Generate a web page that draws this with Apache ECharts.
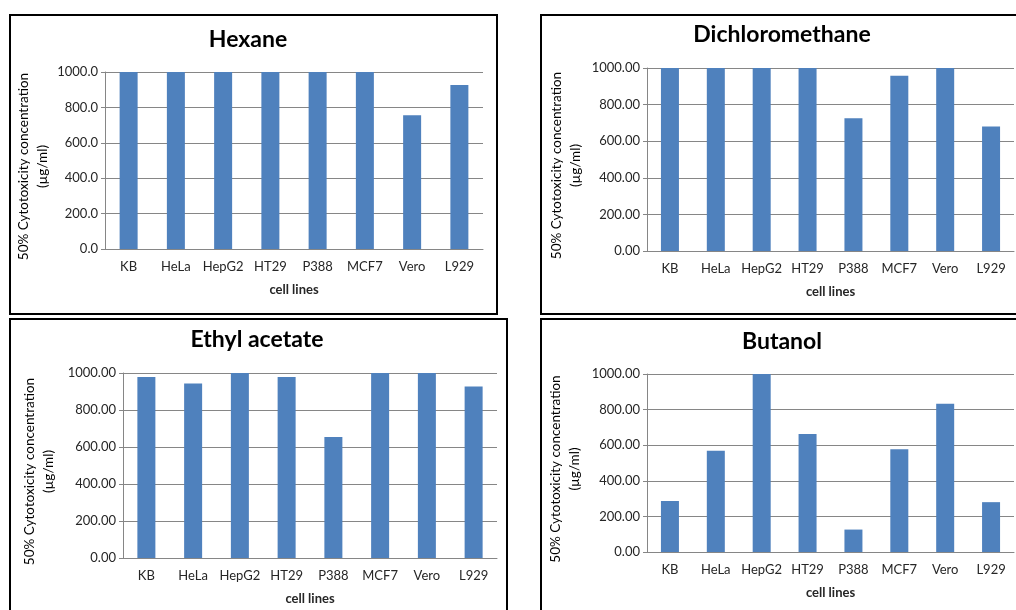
<!DOCTYPE html>
<html>
<head>
<meta charset="utf-8">
<title>50% cytotoxicity concentration</title>
<script src="https://cdn.jsdelivr.net/npm/echarts@6/dist/echarts.min.js"></script>
<style>
  html, body { margin: 0; padding: 0; background: #fff; }
  #main { width: 1016px; height: 610px; }
</style>
</head>
<body>
<div id="main"></div>
<script>
var categories = ['KB', 'HeLa', 'HepG2', 'HT29', 'P388', 'MCF7', 'Vero', 'L929'];

var hexane          = [1000, 1000, 1000, 1000, 1000, 1000, 756, 927];
var dichloromethane = [1000, 1000, 1000, 1000, 726, 958, 1000, 680];
var ethylAcetate    = [978, 943, 1000, 978, 654, 1000, 1000, 927];
var butanol         = [287, 569, 1000, 663, 126, 577, 833, 280];

var titles = ['Hexane', 'Dichloromethane', 'Ethyl acetate', 'Butanol'];
var yDecimals = [1, 2, 2, 2];
var yName = '50% Cytotoxicity concentration\n(\u00b5g/ml)';
var xName = 'cell lines';

var myChart = echarts.init(document.getElementById('main'));

var font = 'Lato';
var gridColor = '#868686';
var txtColor = '#262626';

// layout of the four panels (pixels)
var grids = [
    {left: 105, top: 72, width: 378, height: 177},
    {left: 647, top: 68, width: 367, height: 183},
    {left: 123, top: 373, width: 374, height: 185},
    {left: 647, top: 374, width: 367, height: 178}
];
var titlePos = [[248, 40], [782, 35], [257, 340], [782, 342]];
var nameGaps = [53, 62, 65, 63];
var frames = [
    {x: 10, y: 15, width: 487, height: 299},
    {x: 541, y: 15, width: 500, height: 299},
    {x: 10, y: 319, width: 497, height: 320},
    {x: 541, y: 319, width: 500, height: 320}
];
var seriesData = [hexane, dichloromethane, ethylAcetate, butanol];

var option = {
    backgroundColor: '#fff',
    animation: false,
    title: [],
    grid: [],
    xAxis: [],
    yAxis: [],
    series: [],
    graphic: []
};

for (var i = 0; i < 4; i++) {
    option.title.push({
        text: titles[i],
        left: titlePos[i][0],
        top: titlePos[i][1] - 12,
        textAlign: 'center',
        padding: 0,
        textStyle: {fontFamily: font, fontWeight: 'bold', fontSize: 23, color: '#000'}
    });
    option.grid.push(grids[i]);
    option.xAxis.push({
        type: 'category',
        gridIndex: i,
        data: categories,
        name: xName,
        nameLocation: 'middle',
        nameGap: 34,
        nameTextStyle: {fontFamily: font, fontWeight: 'bold', fontSize: 13, color: txtColor},
        axisLine: {lineStyle: {color: gridColor, width: 1}},
        axisTick: {show: false},
        axisLabel: {fontFamily: font, fontSize: 13, color: txtColor, margin: 11, interval: 0}
    });
    (function (dec) {
        option.yAxis.push({
            type: 'value',
            gridIndex: i,
            min: 0,
            max: 1000,
            interval: 200,
            name: yName,
            nameLocation: 'middle',
            nameRotate: 90,
            nameGap: nameGaps[i],
            nameTextStyle: {fontFamily: font, fontSize: 13.5, color: '#000', lineHeight: 19, padding: [0, 12, 0, 0]},
            axisLine: {show: true, lineStyle: {color: gridColor, width: 1}},
            axisTick: {show: true, length: 4, lineStyle: {color: gridColor}},
            splitLine: {lineStyle: {color: gridColor, width: 1}},
            axisLabel: {
                fontFamily: font, fontSize: 13, color: txtColor, margin: 7,
                formatter: function (v) { return v.toFixed(dec); }
            }
        });
    })(yDecimals[i]);
    option.series.push({
        type: 'bar',
        xAxisIndex: i,
        yAxisIndex: i,
        data: seriesData[i],
        barWidth: 18,
        itemStyle: {color: '#4F81BD'}
    });
    option.graphic.push({
        type: 'rect',
        shape: frames[i],
        style: {fill: null, stroke: '#000', lineWidth: 2},
        z: 100
    });
}

myChart.setOption(option);
</script>
</body>
</html>
